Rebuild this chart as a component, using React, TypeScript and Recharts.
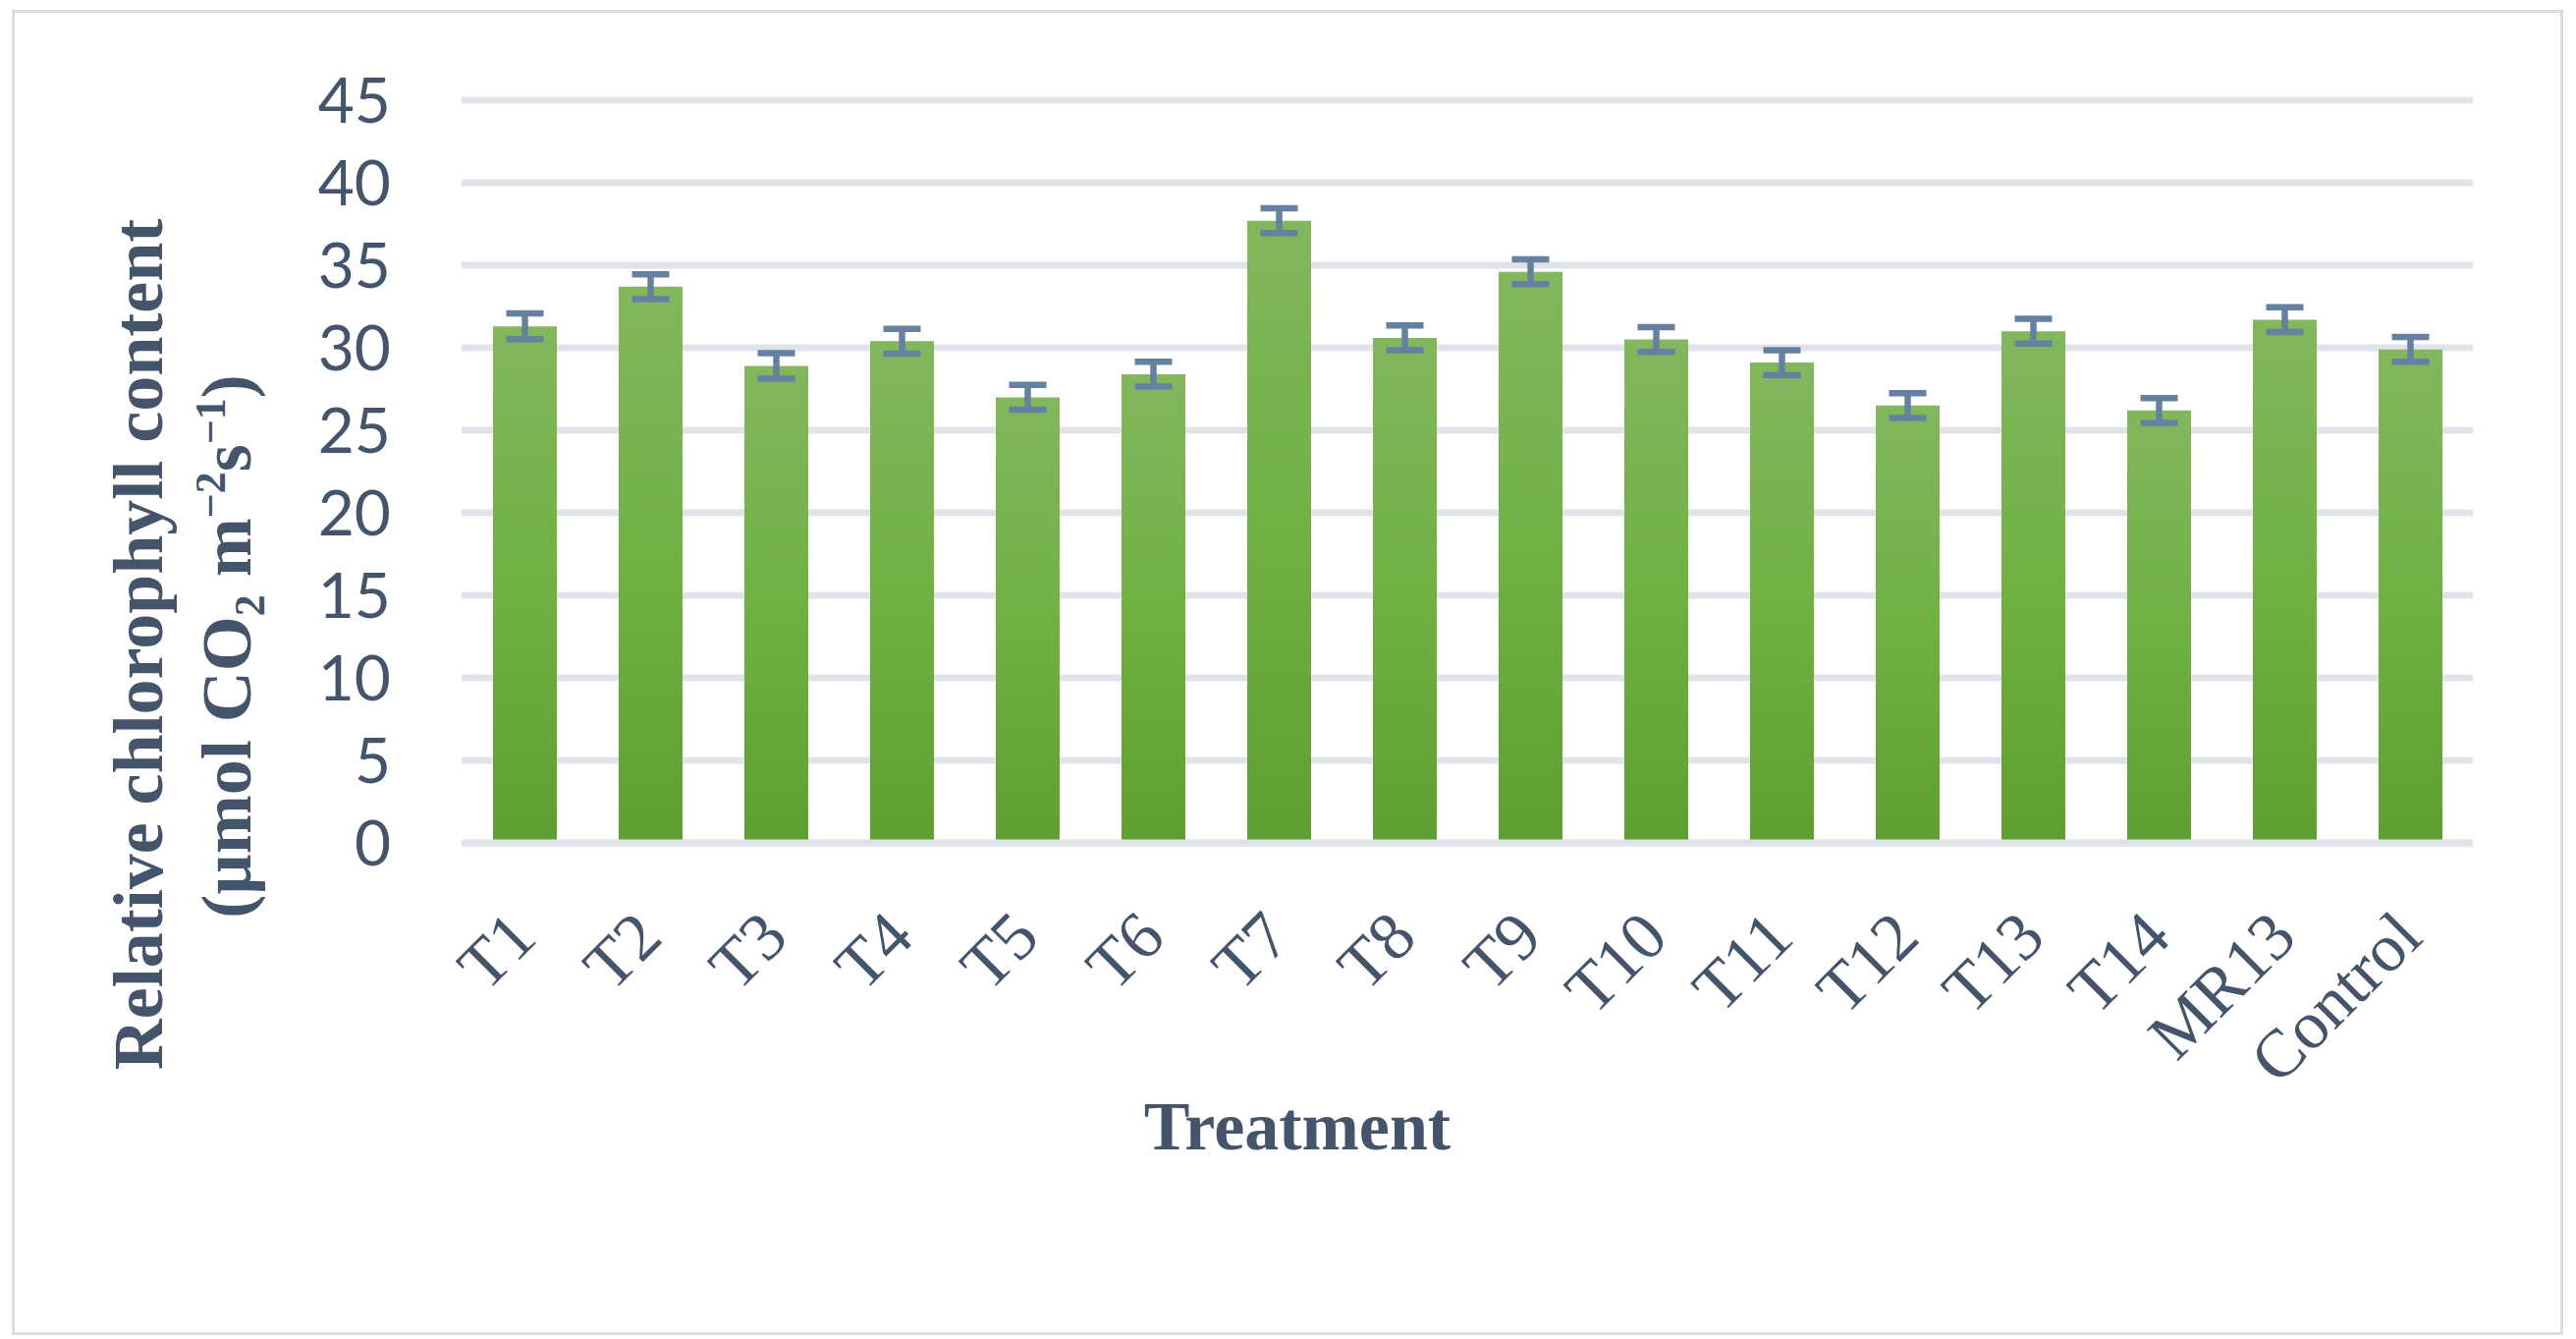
import React from 'react';
import { BarChart, Bar, XAxis, YAxis, CartesianGrid, ErrorBar } from 'recharts';

// values
const treatments = ['T1', 'T2', 'T3', 'T4', 'T5', 'T6', 'T7', 'T8', 'T9', 'T10', 'T11', 'T12', 'T13', 'T14', 'MR13', 'Control'];
const chlorophyll = [31.3, 33.7, 28.9, 30.4, 27.0, 28.4, 37.7, 30.6, 34.6, 30.5, 29.1, 26.5, 31.0, 26.2, 31.7, 29.9];
const stdError = [0.78, 0.75, 0.78, 0.75, 0.75, 0.75, 0.75, 0.75, 0.75, 0.75, 0.75, 0.75, 0.75, 0.75, 0.75, 0.75];
const yTicks = [0, 5, 10, 15, 20, 25, 30, 35, 40, 45];

const data = treatments.map((name, i) => ({ name, value: chlorophyll[i], err: stdError[i] }));

const TEXT = '#44546A';
const GRID = '#E0E4EA';
const SERIF = "'Liberation Serif', 'Times New Roman', serif";

const TreatmentTick = ({ x, y, payload }: any) => {
  const px = x + 15;
  const py = y + 99;
  return (
    <text
      x={px}
      y={py}
      transform={`rotate(-45, ${px}, ${py})`}
      textAnchor="end"
      fontFamily={SERIF}
      fontSize={69}
      fill={TEXT}
    >
      {payload.value}
    </text>
  );
};

const YTitle = () => (
  <g fontFamily={SERIF} fontWeight="bold" fontSize={72} fill={TEXT}>
    <text x={165} y={656} transform="rotate(-90, 165, 656)" textAnchor="middle">
      Relative chlorophyll content
    </text>
    <text x={255} y={658} transform="rotate(-90, 255, 658)" textAnchor="middle">
      <tspan>(µmol CO</tspan>
      <tspan fontSize={44} dy={14}>2</tspan>
      <tspan dy={-14}> m</tspan>
      <tspan fontSize={44} dy={-26}>−2</tspan>
      <tspan dy={26}>s</tspan>
      <tspan fontSize={44} dy={-26}>−1</tspan>
      <tspan dy={26}>)</tspan>
    </text>
  </g>
);

const XTitle = () => (
  <text x={1321} y={1170} textAnchor="middle" fontFamily={SERIF} fontWeight="bold" fontSize={70} fill={TEXT}>
    Treatment
  </text>
);

const App = () => {
  return (
    <div style={{ position: 'absolute', left: 0, top: 0, width: 2623, height: 1363, background: '#fff' }}>
      <div
        style={{
          position: 'absolute',
          left: 12,
          top: 10,
          width: 2598,
          height: 1349,
          border: '3px solid #D9DEE5',
          boxSizing: 'border-box',
        }}
      />
      <div style={{ position: 'absolute', left: 0, top: 0 }}>
        <BarChart
          width={2623}
          height={1363}
          data={data}
          margin={{ top: 102, right: 105, left: 0, bottom: 0 }}
          barSize={65}
        >
          <defs>
            <linearGradient id="barGrad" x1="0" y1="0" x2="0" y2="1">
              <stop offset="0%" stopColor="#82B75E" />
              <stop offset="50%" stopColor="#70B143" />
              <stop offset="100%" stopColor="#5F9F32" />
            </linearGradient>
          </defs>
          <CartesianGrid vertical={false} stroke={GRID} strokeWidth={7} />
          <YAxis
            width={470}
            domain={[0, 45]}
            ticks={yTicks}
            axisLine={false}
            tickLine={false}
            tickSize={0}
            tickMargin={72}
            tick={{ fontFamily: 'Lato, sans-serif', fontSize: 64, fill: TEXT }}
            label={<YTitle />}
          />
          <Bar dataKey="value" fill="url(#barGrad)" isAnimationActive={false}>
            <ErrorBar dataKey="err" width={19} strokeWidth={6.5} stroke="#66809F" isAnimationActive={false} />
          </Bar>
          <XAxis
            dataKey="name"
            height={505}
            interval={0}
            axisLine={{ stroke: GRID, strokeWidth: 7 }}
            tickLine={false}
            tickSize={0}
            tickMargin={0}
            tick={<TreatmentTick />}
            label={<XTitle />}
          />
        </BarChart>
      </div>
    </div>
  );
};

export default App;
